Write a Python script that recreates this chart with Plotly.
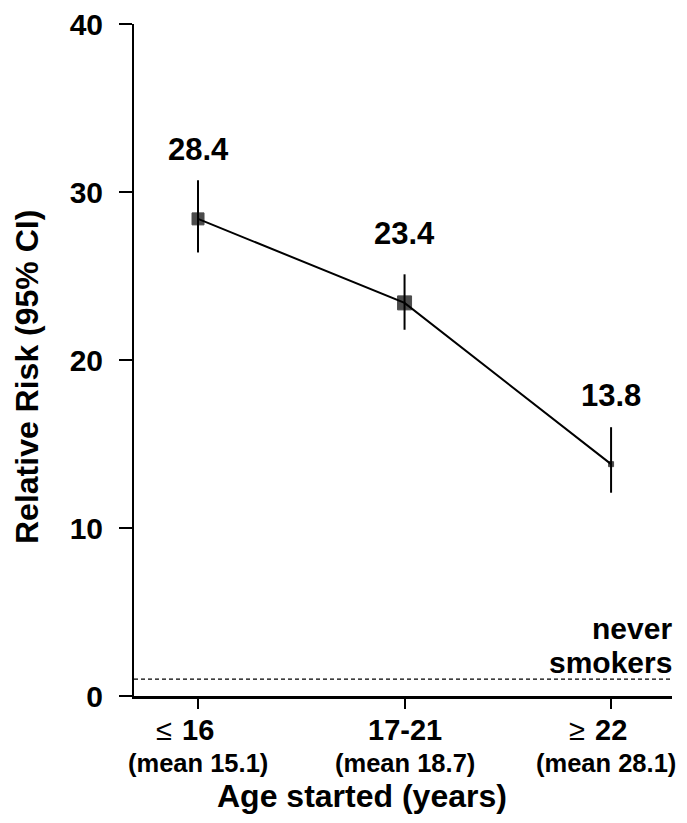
import plotly.graph_objects as go

categories = ["16", "17-21", "22"]
cat_prefix = ["≤", "", "≥"]
means = ["(mean 15.1)", "(mean 18.7)", "(mean 28.1)"]
rr = [28.4, 23.4, 13.8]
ci_low = [26.4, 21.8, 12.1]
ci_high = [30.7, 25.1, 16.0]
marker_sizes = [12, 14, 5]
never_smokers = 1.0
yticks = [0, 10, 20, 30, 40]

xpos = [1, 2, 3]
XMIN, XMAX = 0.69, 3.295
FONT = "Liberation Sans, Arial, Helvetica, sans-serif"

fig = go.Figure()
fig.add_trace(go.Scatter(
    x=[XMIN, XMAX], y=[never_smokers, never_smokers], mode="lines",
    line=dict(color="black", width=1.3, dash="4px,3px"),
    showlegend=False, hoverinfo="skip",
))
fig.add_trace(go.Scatter(
    x=xpos, y=rr, mode="lines+markers",
    line=dict(color="black", width=2),
    marker=dict(symbol="square", size=marker_sizes, color="black",
                line=dict(color="black", width=1)),
    error_y=dict(type="data", symmetric=False,
                 array=[h - v for h, v in zip(ci_high, rr)],
                 arrayminus=[v - l for l, v in zip(ci_low, rr)],
                 color="black", thickness=2, width=0),
    showlegend=False, hoverinfo="skip",
))

for x, v in zip(xpos, rr):
    fig.add_annotation(x=x, y=v, yshift=69, text=f"<b>{v}</b>", showarrow=False,
                       yanchor="middle",
                       font=dict(family=FONT, size=31, color="black"))

fig.add_annotation(x=XMAX, y=never_smokers, xanchor="right", yanchor="bottom",
                   yshift=32, xshift=2,
                   text="<b>never</b>", showarrow=False,
                   font=dict(family=FONT, size=30, color="black"))
fig.add_annotation(x=XMAX, y=never_smokers, xanchor="right", yanchor="bottom",
                   yshift=-2, xshift=2,
                   text="<b>smokers</b>", showarrow=False,
                   font=dict(family=FONT, size=30, color="black"))

# x tick labels (two lines)
mean_shift = [0, 0, -5]
for x, p, c, m, s in zip(xpos, cat_prefix, categories, means, mean_shift):
    fig.add_annotation(x=x, xref="x", y=0, yref="paper", yshift=-34, yanchor="middle",
                       text=f"<b>{c}</b>", showarrow=False,
                       font=dict(family=FONT, size=29, color="black"))
    if p:
        fig.add_annotation(x=x, xref="x", y=0, yref="paper", yshift=-34, yanchor="middle",
                           xanchor="right", xshift=-24,
                           text=p, showarrow=False,
                           font=dict(family=FONT, size=29, color="black"))
    fig.add_annotation(x=x, xref="x", y=0, yref="paper", yshift=-67, yanchor="middle",
                       xshift=s,
                       text=f"<b>{m}</b>", showarrow=False,
                       font=dict(family=FONT, size=25.5, color="black"))

# axis titles
fig.add_annotation(x=0.5, xref="paper", y=0, yref="paper", yshift=-100, yanchor="middle",
                   xshift=-41,
                   text="<b>Age started (years)</b>", showarrow=False,
                   font=dict(family=FONT, size=32, color="black"))
fig.add_annotation(x=0, xref="paper", y=0.5, yref="paper", xshift=-107, yshift=-17,
                   xanchor="center", yanchor="middle", textangle=-90,
                   text="<b>Relative Risk (95% CI)</b>", showarrow=False,
                   font=dict(family=FONT, size=32, color="black"))

fig.update_layout(
    width=671, height=807,
    margin=dict(l=126, r=7, t=16, b=119),
    paper_bgcolor="white", plot_bgcolor="white",
    font=dict(family=FONT, color="black"),
    xaxis=dict(range=[XMIN, XMAX], tickvals=xpos, showticklabels=False,
               showline=True, linecolor="black", linewidth=2.5,
               ticks="outside", ticklen=10, tickwidth=2, tickcolor="black",
               showgrid=False, zeroline=False),
    yaxis=dict(range=[0, 40], tickvals=yticks,
               ticktext=[f"<b>{t}</b>" for t in yticks],
               tickfont=dict(size=30, family=FONT),
               showline=True, linecolor="black", linewidth=2,
               ticks="outside", ticklen=13, tickwidth=2, tickcolor="black",
               ticklabelstandoff=10, ticklabeloverflow="allow",
               automargin=False,
               showgrid=False, zeroline=False),
)

fig.write_html("out.html")
